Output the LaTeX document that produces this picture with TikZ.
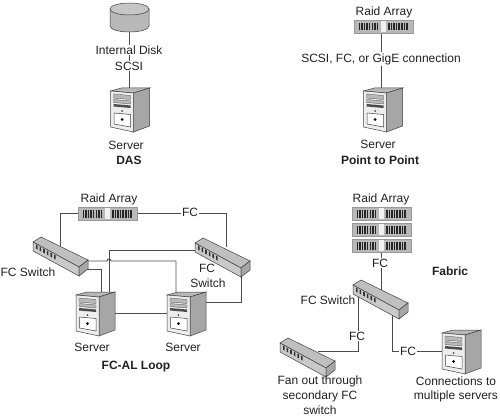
\documentclass[tikz,border=0pt]{standalone}
\usepackage{fontspec}
\setmainfont{Liberation Sans}
\definecolor{ink}{gray}{0.13}
\definecolor{wire}{gray}{0.3}
\definecolor{facelight}{gray}{0.93}
\definecolor{facemid}{gray}{0.72}
\definecolor{facedark}{gray}{0.5}
\tikzset{
  x=1pt,y=-1pt,
  lbl/.style={font=\fontsize{12}{14}\selectfont,text=ink,inner sep=0.5pt,align=center},
  cut/.style={lbl,fill=white,inner ysep=1pt,inner xsep=1pt},
  ttl/.style={lbl,font=\fontsize{12}{14}\selectfont\bfseries},
  wirel/.style={draw=wire,line width=0.9pt},
  edge/.style={draw=black!75,line width=0.5pt},
  server/.pic={
    \path[edge,fill=facemid] (0,0)--(11,-3)--(39,-3)--(23,2)--cycle;
    \path[edge,fill=facedark!70] (23,2)--(39,-3)--(39,35)--(23,41)--cycle;
    \path[edge,fill=facelight] (0,0)--(23,2)--(23,41)--(0,36)--cycle;
    \path[fill=facemid,draw=black!70,line width=0.3pt] (3,3)--(20,4.5)--(20,8.5)--(3,7)--cycle;
    \path[fill=facemid,draw=black!70,line width=0.3pt] (3,8.5)--(20,10)--(20,13)--(3,11.5)--cycle;
    \path[fill=black!70] (3,13)--(20,14.5)--(20,17)--(3,15.5)--cycle;
    \fill[black!70] (11.5,20) circle (1);
    \path[fill=white,draw=black!75,line width=0.5pt] (3.5,22)--(20,23.5)--(20,36)--(3.5,33)--cycle;
    \fill[black] (11.5,28.5) circle (1.5);
  },
  switchbox/.pic={
    \path[edge,fill=facemid!90] (0,0)--(8,-5)--(55,18)--(46,25)--cycle;
    \path[edge,fill=facemid!75] (0,0)--(46,25)--(46,34)--(0,9)--cycle;
    \path[edge,fill=facedark!70] (46,25)--(55,18)--(55,27)--(46,34)--cycle;
    \foreach \i in {0,...,5}{
      \fill[black!80] (3+3.6*\i,2.5+2*\i) -- ++(1.6,1) -- ++(0,4) -- ++(-1.6,-1) -- cycle;
    }
  },
  raid/.pic={
    \fill[facemid] (0,0) rectangle (59,13);
    \draw[black!40,line width=0.4pt] (0,0) rectangle (59,13);
    \fill[facelight!80] (27,1) rectangle (32,12);
    \foreach \i in {0,...,7}{
      \fill[black!85] (4.5+2.6*\i,3) rectangle ++(1.5,7.5);
      \fill[black!85] (34+2.6*\i,3) rectangle ++(1.5,7.5);
    }
  },
}
\begin{document}
\begin{tikzpicture}
\useasboundingbox (0,0) rectangle (500,417);
% port coordinates
\coordinate (diskB) at (129.5,30);
\coordinate (srvAtop) at (129.5,90);
\coordinate (rP) at (381.5,30);
\coordinate (srvBtop) at (381.5,90);
\coordinate (lraidL) at (78,213);
\coordinate (lraidR) at (137,213);
\coordinate (lswT) at (60,247);
\coordinate (rswT) at (226,247);
\coordinate (lswR) at (87,269);
\coordinate (lswRb) at (87,261);
\coordinate (rswL) at (197,250);
\coordinate (rswB) at (241,274);
\coordinate (s1a) at (101,293);
\coordinate (s1b) at (109,293);
\coordinate (s1R) at (115,313);
\coordinate (s2a) at (176,293);
\coordinate (s2L) at (167,313);
\coordinate (s2R) at (205,302);
\coordinate (fraid) at (381,251);
\coordinate (fswT) at (381,290);
\coordinate (fswL) at (358,293);
\coordinate (fswB) at (392,312);
\coordinate (fan) at (318,351);
\coordinate (fsrv) at (443,351);
% connectors
\draw[wirel] (diskB) -- (srvAtop);
\draw[wirel] (rP) -- (srvBtop);
\draw[wirel] (lraidL) -| (lswT);
\draw[wirel] (lraidR) -| (rswT);
\draw[wirel] (lswR) -| (s1a);
\draw[wirel] (lswRb) -- (107,261) arc[start angle=180,end angle=360,radius=2] -| (s2a);
\draw[wirel] (rswL) -| (s1b);
\draw[wirel] (s2R) -| (rswB);
\draw[wirel] (s1R) -- (s2L);
\draw[wirel] (fraid) -- (fswT);
\draw[wirel] (fswL) |- (fan);
\draw[wirel] (fswB) |- (fsrv);
% disk
\path[edge,fill=facemid] (110,9) -- (110,26) arc[start angle=180,end angle=0,x radius=19.5,y radius=6] -- (149,9) -- cycle;
\path[edge,fill=facemid!80] (129.5,9) ellipse [x radius=19.5,y radius=6];
% devices
\pic at (110.5,91) {server};
\pic at (363.5,91) {server};
\pic at (76,295) {server};
\pic at (167,295) {server};
\pic at (442,333) {server};
\pic at (354,20) {raid};
\pic at (78,207) {raid};
\pic at (352,207) {raid};
\pic at (352,223) {raid};
\pic at (352,239) {raid};
\pic at (33,242) {switchbox};
\pic at (195,243) {switchbox};
\pic at (353,285) {switchbox};
\pic at (280,343) {switchbox};
% text
\node[cut] (t1) at (129,50) {Internal Disk};
\node[cut] (t2) at (129,66) {SCSI};
\node[lbl] (t3) at (126,145) {Server};
\node[ttl] (t4) at (129,160) {DAS};
\node[lbl] (t5) at (384,12.5) {Raid Array};
\node[cut] (t6) at (381,59) {SCSI, FC, or GigE connection};
\node[lbl] (t7) at (378,144) {Server};
\node[ttl] (t8) at (380,160) {Point to Point};
\node[lbl] (t9) at (109,199) {Raid Array};
\node[cut] (t10) at (190,212.5) {FC};
\node[lbl] (t11) at (28,272) {FC Switch};
\node[lbl] (t12) at (207,268) {FC};
\node[lbl] (t13) at (208,283) {Switch};
\node[lbl] (t14) at (92,347) {Server};
\node[lbl] (t15) at (183,347) {Server};
\node[ttl] (t16) at (136,367) {FC-AL Loop};
\node[lbl] (t17) at (381,199) {Raid Array};
\node[ttl] (t18) at (450,271) {Fabric};
\node[cut] (t19) at (380,263) {FC};
\node[lbl] (t20) at (328,300) {FC Switch};
\node[cut] (t21) at (357,336) {FC};
\node[cut] (t22) at (408,351) {FC};
\node[lbl] (t23) at (320,381) {Fan out through};
\node[lbl] (t24) at (320,396) {secondary FC};
\node[lbl] (t25) at (320,410) {switch};
\node[lbl] (t26) at (456,381) {Connections to};
\node[lbl] (t27) at (456,396) {multiple servers};
\end{tikzpicture}
\end{document}
